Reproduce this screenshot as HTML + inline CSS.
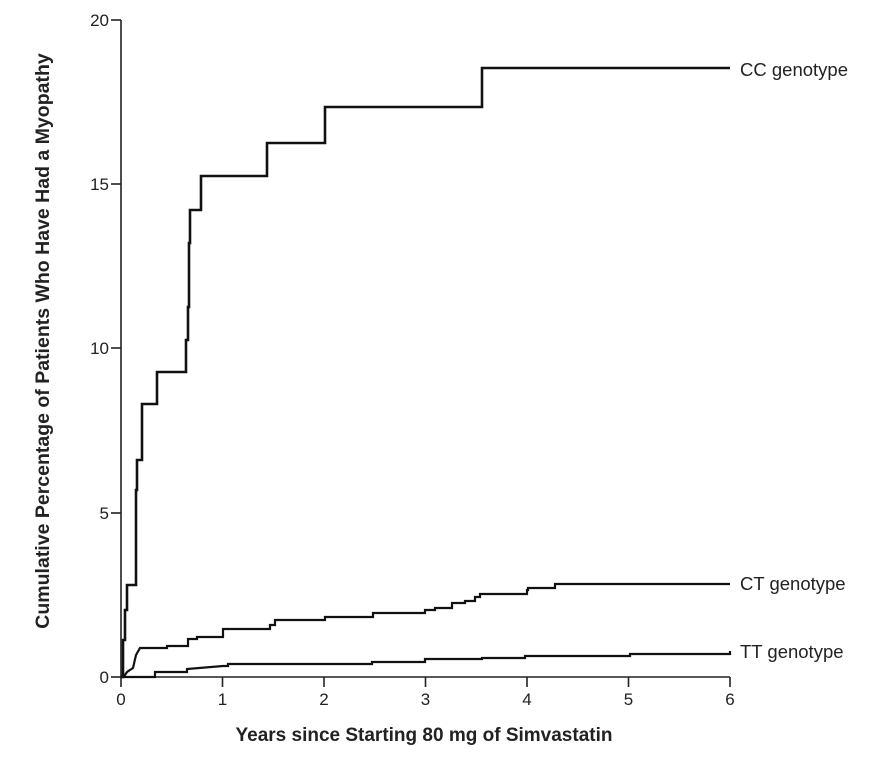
<!DOCTYPE html>
<html><head><meta charset="utf-8"><style>body{margin:0;background:#fff}svg{display:block}</style></head><body>
<svg width="879" height="767" xmlns="http://www.w3.org/2000/svg" font-family="'Liberation Sans', sans-serif">
<rect width="879" height="767" fill="#fff"/>
<g stroke="#222" stroke-width="1.6" fill="none">
<line x1="121" y1="20" x2="121" y2="677"/>
<line x1="121" y1="677" x2="730" y2="677"/>
<line x1="111" y1="20" x2="121" y2="20"/>
<line x1="111" y1="184" x2="121" y2="184"/>
<line x1="111" y1="348" x2="121" y2="348"/>
<line x1="111" y1="513" x2="121" y2="513"/>
<line x1="111" y1="677" x2="121" y2="677"/>
<line x1="121" y1="677" x2="121" y2="687"/>
<line x1="222.5" y1="677" x2="222.5" y2="687"/>
<line x1="324" y1="677" x2="324" y2="687"/>
<line x1="425.5" y1="677" x2="425.5" y2="687"/>
<line x1="527" y1="677" x2="527" y2="687"/>
<line x1="628.5" y1="677" x2="628.5" y2="687"/>
<line x1="730" y1="677" x2="730" y2="687"/>
</g>
<g font-size="17" fill="#222" text-anchor="end">
<text x="109" y="26">20</text><text x="109" y="190">15</text><text x="109" y="354">10</text><text x="109" y="519">5</text><text x="109" y="683">0</text>
</g>
<g font-size="17" fill="#222" text-anchor="middle">
<text x="121" y="705">0</text><text x="222.5" y="705">1</text><text x="324" y="705">2</text><text x="425.5" y="705">3</text><text x="527" y="705">4</text><text x="628.5" y="705">5</text><text x="730" y="705">6</text>
</g>
<g fill="none" stroke="#111" stroke-linejoin="miter">
<path stroke-width="2.6" d="M121,677 H123 V640 H125 V610 H127 V585 H136 V490 H137 V460 H142 V404 H157 V372 H186 V340 H188 V307 H189 V243 H190 V210 H201 V176 H267 V143 H325 V107 H482 V68 H730"/>
<path stroke-width="2.2" d="M121,677 L125,675 L127,672 L133,668 L136,655 L140,648 H167 V646 H188 V639 H197 V637 H223 V629 H270 V625 H275 V620 H325 V617 H373 V613 H425 V610 H435 V608 H452 V603 H465 V601 H475 V597 H480 V594 H527 V590 H528 V588 H555 V584 H730"/>
<path stroke-width="2.2" d="M121,677 H155 V672 H187 V669 L223,666 H228 V664 H372 V662 H425 V659 H482 V658 H525 V656 H630 V654 H730 V651"/>
</g>
<g font-size="18.5" fill="#222">
<text x="740" y="76">CC genotype</text>
<text x="740" y="590">CT genotype</text>
<text x="740" y="658">TT genotype</text>
</g>
<text x="424" y="741" font-size="19" font-weight="bold" fill="#222" text-anchor="middle">Years since Starting 80 mg of Simvastatin</text>
<text transform="translate(49,341) rotate(-90)" font-size="19.5" font-weight="bold" fill="#222" text-anchor="middle">Cumulative Percentage of Patients Who Have Had a Myopathy</text>
</svg>
</body></html>
